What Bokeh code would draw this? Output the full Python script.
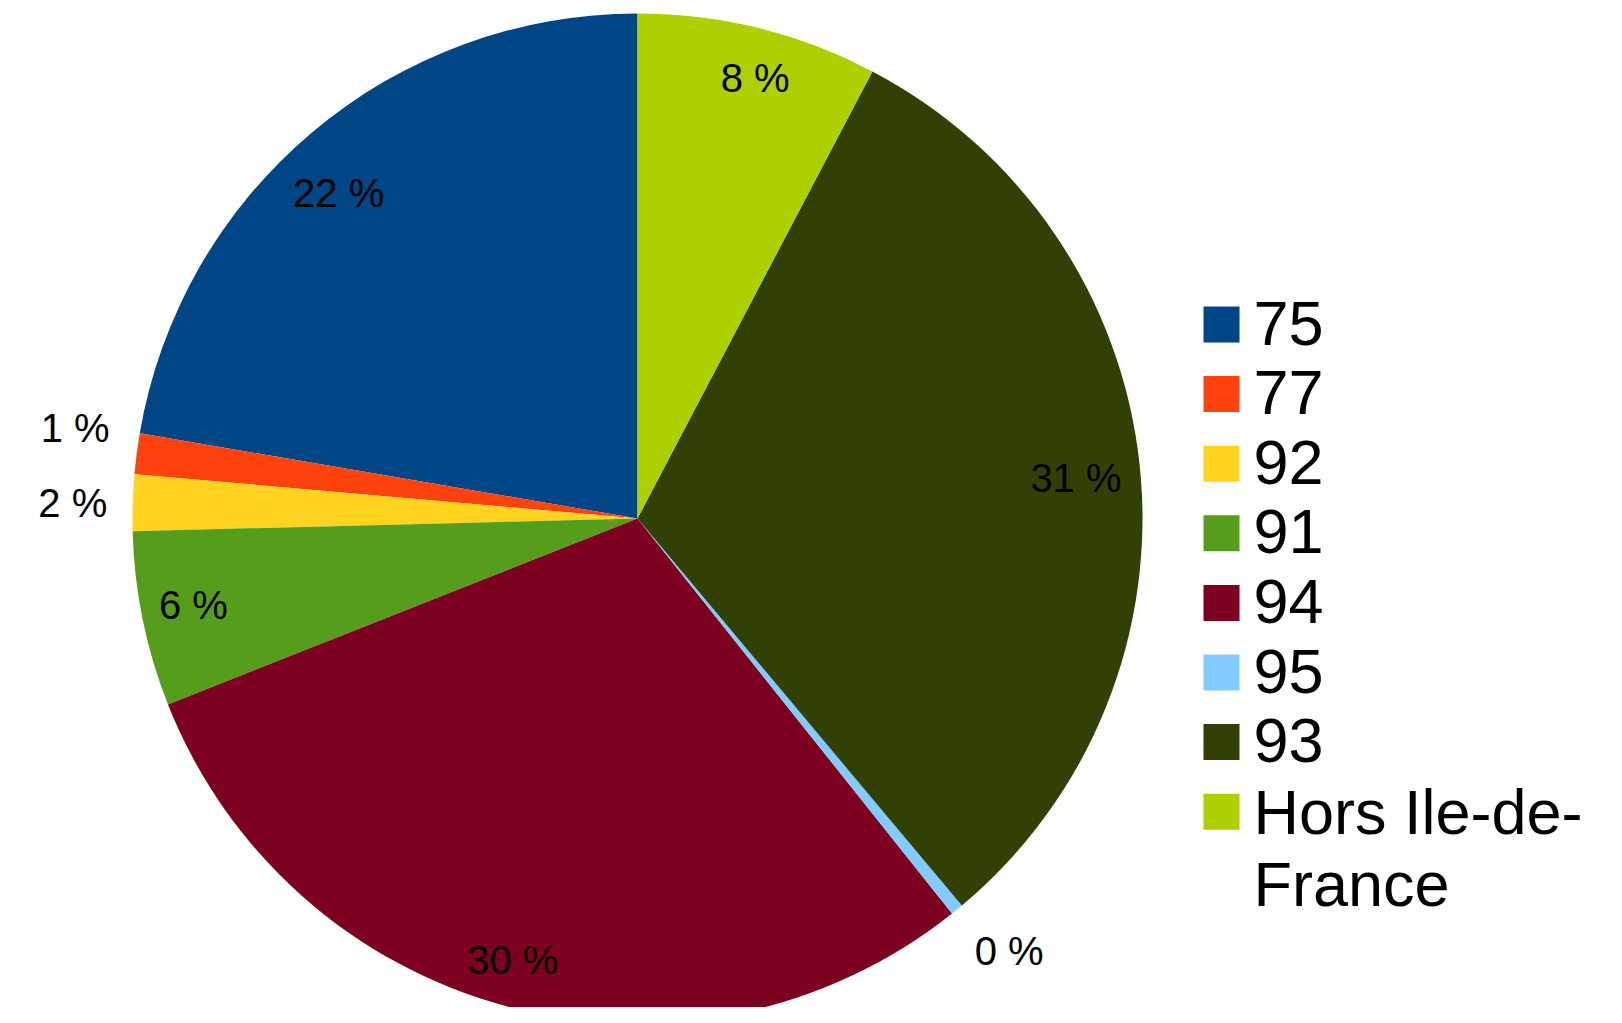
import numpy as np
from bokeh.plotting import figure
from bokeh.models import Range1d, ColumnDataSource
from bokeh.core.properties import value
from bokeh.embed import file_html
from bokeh.resources import INLINE

# ---- data ----
categories = ["75", "77", "92", "91", "94", "95", "93", "Hors Ile-de-France"]
legend_labels = ["75", "77", "92", "91", "94", "95", "93", "Hors Ile-de-\nFrance"]
shares = [22.3, 1.3, 1.8, 5.6, 29.7, 0.4, 31.2, 7.7]
colors = ["#004586", "#ff420e", "#ffd320", "#579d1c", "#7e0021", "#83caff", "#314004", "#aecf00"]

# ---- layout (pixels) ----
W, H = 1606, 1007
FONT = "Liberation Sans"
label_nudge_x = [-12, 0, 2, -8, -10, 13, -4, 11]
label_nudge_y = [15, -18, 2, -2, 12, -7, 7, -8]   # screen pixels, downwards

p = figure(width=W, height=H, output_backend="svg", toolbar_location=None,
           x_range=Range1d(0, W), y_range=Range1d(0, H),
           min_border=0, outline_line_color=None, background_fill_color="white",
           border_fill_color="white")
p.axis.visible = False
p.grid.visible = False

cx, cy, r = 637, H - 518, 505
vals = np.array(shares, dtype=float)
frac = vals / vals.sum()
cum = np.concatenate([[0], np.cumsum(frac)])
start = np.pi / 2 + 2 * np.pi * cum[:-1]
end = np.pi / 2 + 2 * np.pi * cum[1:]

src = ColumnDataSource(dict(start=start, end=end, color=colors, name=categories))
p.wedge(x=cx, y=cy, radius=r, start_angle="start", end_angle="end",
        direction="anticlock", fill_color="color", line_color=None, source=src)

# percentage labels
mid = (start + end) / 2
pct = np.rint(frac * 100).astype(int)
inside = frac >= 0.03
rad = np.where(inside, 445, 567)
lx = cx + rad * np.cos(mid) + np.array(label_nudge_x)
ly = cy + rad * np.sin(mid) - np.array(label_nudge_y)
p.text(x=lx, y=ly, text=[f"{v} %" for v in pct], text_align="center",
       text_baseline="middle", text_font=value(FONT), text_font_size="40px",
       text_color="#000000")

# legend (manual)
lg_x, lg_y0, lg_step = 1221, H - 324, 69.6
ys = [lg_y0 - i * lg_step for i in range(len(categories))]
p.rect(x=[lg_x] * len(categories), y=ys, width=36, height=36,
       fill_color=colors, line_color=None)
ty = [y + 23 + (12 if "\n" in lab else 0) for y, lab in zip(ys, legend_labels)]
p.text(x=[1253] * len(categories), y=ty, text=legend_labels,
       text_align="left", text_baseline="top", text_font=value(FONT),
       text_font_size="63px", text_color="#000000", text_line_height=1.03)

open("out.html", "w").write(file_html(p, INLINE))
